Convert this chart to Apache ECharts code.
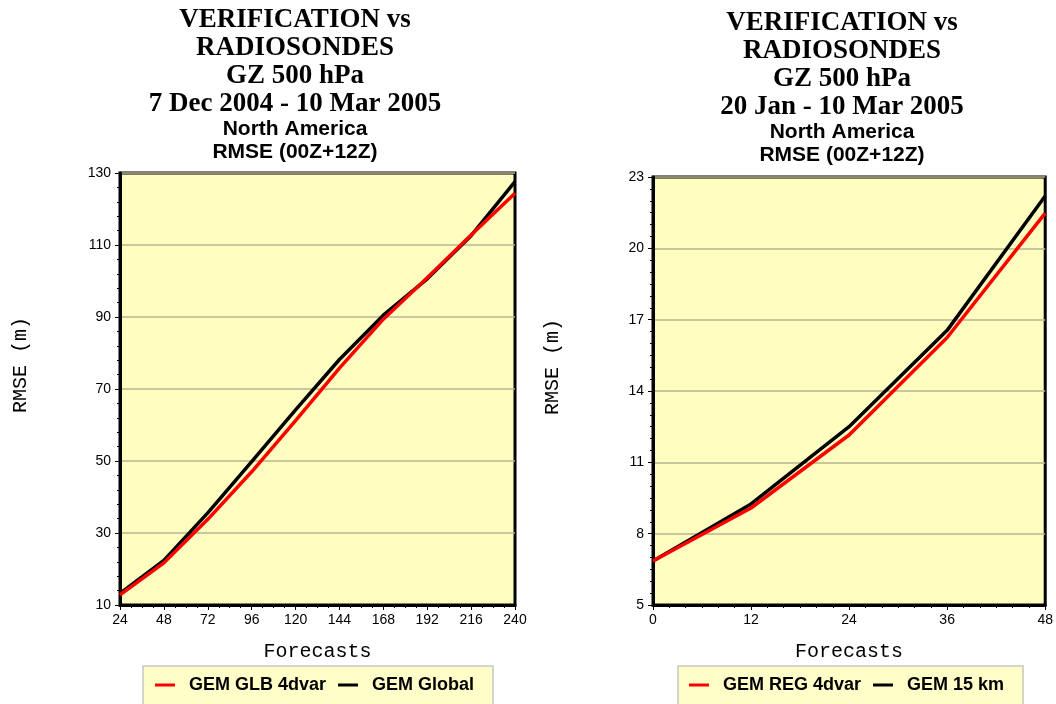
<!DOCTYPE html>
<html>
<head>
<meta charset="utf-8">
<script src="https://cdn.jsdelivr.net/npm/echarts@6/dist/echarts.min.js"></script>
<style>
  html, body { margin: 0; padding: 0; background: #ffffff; }
  #chart { width: 1056px; height: 704px; }
</style>
</head>
<body>
<div id="chart"></div>
<script>
// Global model: forecast hours and RMSE (m)
const glbHours = [24, 48, 72, 96, 120, 144, 168, 192, 216, 240];
const glb4dvar = [12.8, 21.7, 33.8, 47.0, 61.2, 75.8, 89.4, 100.9, 112.8, 124.4];
const glbGlobal = [13.2, 22.4, 35.6, 49.8, 64.2, 78.2, 90.5, 100.6, 112.6, 127.6];

// Regional model: forecast hours and RMSE (m)
const regHours = [0, 12, 24, 36, 48];
const reg4dvar = [6.85, 9.08, 12.15, 16.25, 21.48];
const reg15km = [6.85, 9.25, 12.5, 16.55, 22.2];

const leftTitle = ['VERIFICATION vs', 'RADIOSONDES', 'GZ 500 hPa', '7 Dec 2004 - 10 Mar 2005'];
const rightTitle = ['VERIFICATION vs', 'RADIOSONDES', 'GZ 500 hPa', '20 Jan - 10 Mar 2005'];
const subTitle = ['North America', 'RMSE (00Z+12Z)'];
const yAxisTitle = 'RMSE (m)';

const PLOT_BG = '#FFFEC0';
const GRID_LINE = '#B7B493';
const SANS = '"Liberation Sans", Arial, Helvetica, sans-serif';
const SERIF = '"Liberation Serif", "Times New Roman", serif';
const MONO = '"Liberation Mono", "Courier New", monospace';

function pairs(xs, ys) { return xs.map((x, i) => [x, ys[i]]); }

function titleBlock(lines, cx, y0) {
  const out = [];
  lines.forEach((t, i) => {
    out.push({ type: 'text', x: cx, y: y0 + i * 28,
      style: { text: t, font: 'bold 27px ' + SERIF, fill: '#000', align: 'center', verticalAlign: 'middle' } });
  });
  subTitle.forEach((t, i) => {
    out.push({ type: 'text', x: cx, y: y0 + 109 + i * 23,
      style: { text: t, font: 'bold 21px ' + SANS, fill: '#000', align: 'center', verticalAlign: 'middle' } });
  });
  return out;
}

function yTitle(cx, cy) {
  return { type: 'text', x: cx, y: cy, rotation: Math.PI / 2,
    style: { text: yAxisTitle, font: '20px ' + MONO, fill: '#000', align: 'center', verticalAlign: 'middle' } };
}

function xAxisCfg(gridIndex, min, max, interval, minorSplit) {
  return {
    type: 'value', gridIndex, min, max, interval,
    name: 'Forecasts', nameLocation: 'middle', nameGap: 37,
    nameTextStyle: { fontFamily: MONO, fontSize: 20, color: '#000' },
    axisLine: { show: true, onZero: false, lineStyle: { color: '#000', width: 3 } },
    axisTick: { show: true, inside: false, length: 5, lineStyle: { color: '#000', width: 1 } },
    minorTick: { show: true, splitNumber: minorSplit, length: 3, lineStyle: { color: '#000', width: 1 } },
    axisLabel: { fontFamily: SANS, fontSize: 14, color: '#000', margin: 8 },
    splitLine: { show: false }
  };
}

function yAxisCfg(gridIndex, min, max, interval, minorSplit) {
  return {
    type: 'value', gridIndex, min, max, interval,
    axisLine: { show: true, onZero: false, lineStyle: { color: '#000', width: 3 } },
    axisTick: { show: true, inside: false, length: 5, lineStyle: { color: '#000', width: 1 } },
    minorTick: { show: true, splitNumber: minorSplit, length: 3, lineStyle: { color: '#000', width: 1 } },
    axisLabel: { fontFamily: SANS, fontSize: 14, color: '#000', margin: 9 },
    splitLine: { show: true, lineStyle: { color: GRID_LINE, width: 1.5 } }
  };
}

function lineSeries(name, color, xi, yi, xs, ys, z) {
  return {
    name, type: 'line', xAxisIndex: xi, yAxisIndex: yi,
    data: pairs(xs, ys), showSymbol: false, symbol: 'none', smooth: false,
    lineStyle: { color, width: 3.5 }, itemStyle: { color }, z
  };
}

function legendCfg(left, names) {
  return {
    left, top: 676, orient: 'horizontal', icon: 'rect',
    itemWidth: 20, itemHeight: 3, itemGap: 12, padding: 0,
    data: names,
    textStyle: { fontFamily: SANS, fontSize: 18, fontWeight: 'bold', color: '#000', padding: [0, 0, 0, 9] }
  };
}

const chart = echarts.init(document.getElementById('chart'), null, { renderer: 'canvas' });

chart.setOption({
  animation: false,
  backgroundColor: '#ffffff',
  grid: [
    { left: 120, top: 173, width: 395, height: 432, show: true, backgroundColor: PLOT_BG, borderColor: '#000', borderWidth: 3 },
    { left: 653, top: 177, width: 394, height: 428, show: true, backgroundColor: PLOT_BG, borderColor: '#000', borderWidth: 3 }
  ],
  xAxis: [
    xAxisCfg(0, 24, 240, 24, 4),
    xAxisCfg(1, 0, 48, 12, 6)
  ],
  yAxis: [
    yAxisCfg(0, 10, 130, 20, 5),
    yAxisCfg(1, 5, 23, 3, 6)
  ],
  legend: [
    legendCfg(155, ['GEM GLB 4dvar', 'GEM Global']),
    legendCfg(689, ['GEM REG 4dvar', 'GEM 15 km'])
  ],
  series: [
    lineSeries('GEM Global', '#000000', 0, 0, glbHours, glbGlobal, 3),
    lineSeries('GEM GLB 4dvar', '#FF0000', 0, 0, glbHours, glb4dvar, 4),
    lineSeries('GEM 15 km', '#000000', 1, 1, regHours, reg15km, 3),
    lineSeries('GEM REG 4dvar', '#FF0000', 1, 1, regHours, reg4dvar, 4)
  ],
  graphic: [
    { type: 'rect', z: -1, shape: { x: 143, y: 666, width: 350, height: 60 },
      style: { fill: '#FFFEC8', stroke: '#C8C8C0', lineWidth: 1.5 } },
    { type: 'rect', z: -1, shape: { x: 678, y: 666, width: 345, height: 60 },
      style: { fill: '#FFFEC8', stroke: '#C8C8C0', lineWidth: 1.5 } },
    yTitle(21, 365),
    yTitle(553, 367)
  ].concat(titleBlock(leftTitle, 295, 20), titleBlock(rightTitle, 842, 23))
});
</script>
</body>
</html>
